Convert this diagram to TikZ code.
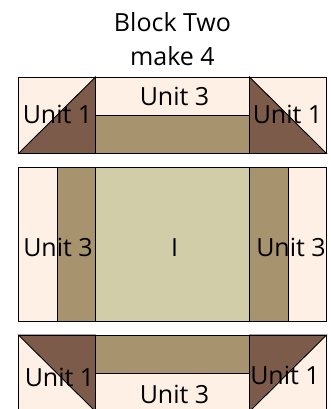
\documentclass[tikz,border=0pt]{standalone}
\usepackage{fontspec}
\setmainfont{Open Sans}
\definecolor{lightpatch}{HTML}{FFF0E6}
\definecolor{darkpatch}{HTML}{7D5B4B}
\definecolor{tanpatch}{HTML}{A8936F}
\definecolor{centerpatch}{HTML}{D1CDA8}
\tikzset{
	patch/.style = {draw = black, line width = 0.9pt},
	label/.style = {anchor = base, inner sep = 0, font = \fontsize{25}{25}\selectfont}
}

\begin{document}
\begin{tikzpicture}[x = 1pt, y = -1pt]

	% Definitions

	\def\La{18.5}		% Left edge
	\def\Lb{95.5}		% Left seam
	\def\Rb{249.5}		% Right seam
	\def\Ra{326.5}		% Right edge

	\useasboundingbox (0, 0) rectangle (331, 409);

	% Top row

	\fill [lightpatch] (\La, 77) rectangle (\Ra, 115);
	\fill [lightpatch] (\La, 77) rectangle (\Lb, 153.5);
	\fill [lightpatch] (\Rb, 77) rectangle (\Ra, 153.5);
	\draw [patch, fill = darkpatch] (\La, 153.5) -- (\Lb, 77) -- (\Lb, 153.5) -- cycle;
	\draw [patch, fill = darkpatch] (\Ra, 153.5) -- (\Rb, 77) -- (\Rb, 153.5) -- cycle;
	\draw [patch, fill = tanpatch] (\Lb, 115) rectangle (\Rb, 153.5);
	\draw [patch] (\La, 77) rectangle (\Ra, 153.5);
	\draw [patch] (\Lb, 77) -- (\Lb, 153.5);
	\draw [patch] (\Rb, 77) -- (\Rb, 153.5);

	% Middle row

	\draw [patch, fill = lightpatch] (\La, 167.5) rectangle (\Ra, 321.5);
	\draw [patch, fill = tanpatch] (57.5, 167.5) rectangle (\Lb, 321.5);
	\draw [patch, fill = tanpatch] (\Rb, 167.5) rectangle (288, 321.5);
	\draw [patch, fill = centerpatch] (\Lb, 167.5) rectangle (\Rb, 321.5);

	% Bottom row

	\fill [lightpatch] (\La, 335) rectangle (\Ra, 412);
	\draw [patch, fill = darkpatch] (\La, 335) -- (\Lb, 335) -- (\Lb, 411.5) -- cycle;
	\draw [patch, fill = darkpatch] (\Ra, 335) -- (\Rb, 335) -- (\Rb, 411.5) -- cycle;
	\draw [patch, fill = tanpatch] (\Lb, 335) rectangle (\Rb, 373.5);
	\draw [patch] (\La, 412) -- (\La, 335) -- (\Ra, 335) -- (\Ra, 412);
	\draw [patch] (\Lb, 335) -- (\Lb, 412);
	\draw [patch] (\Rb, 335) -- (\Rb, 412);

	% Labels

	\node [label] (title) at (172.5, 32) {Block Two};
	\node [label] (count) at (172.5, 66) {make 4};
	\node [label] (topleft) at (57.5, 123) {Unit 1};
	\node [label] (topmid) at (174.5, 106) {Unit 3};
	\node [label] (topright) at (287.5, 123) {Unit 1};
	\node [label] (midleft) at (58, 256) {Unit 3};
	\node [label] (midcenter) at (174.5, 256) {I};
	\node [label] (midright) at (291, 256) {Unit 3};
	\node [label] (botleft) at (59.5, 386) {Unit 1};
	\node [label] (botmid) at (174.5, 403) {Unit 3};
	\node [label] (botright) at (285, 384) {Unit 1};

\end{tikzpicture}
\end{document}
